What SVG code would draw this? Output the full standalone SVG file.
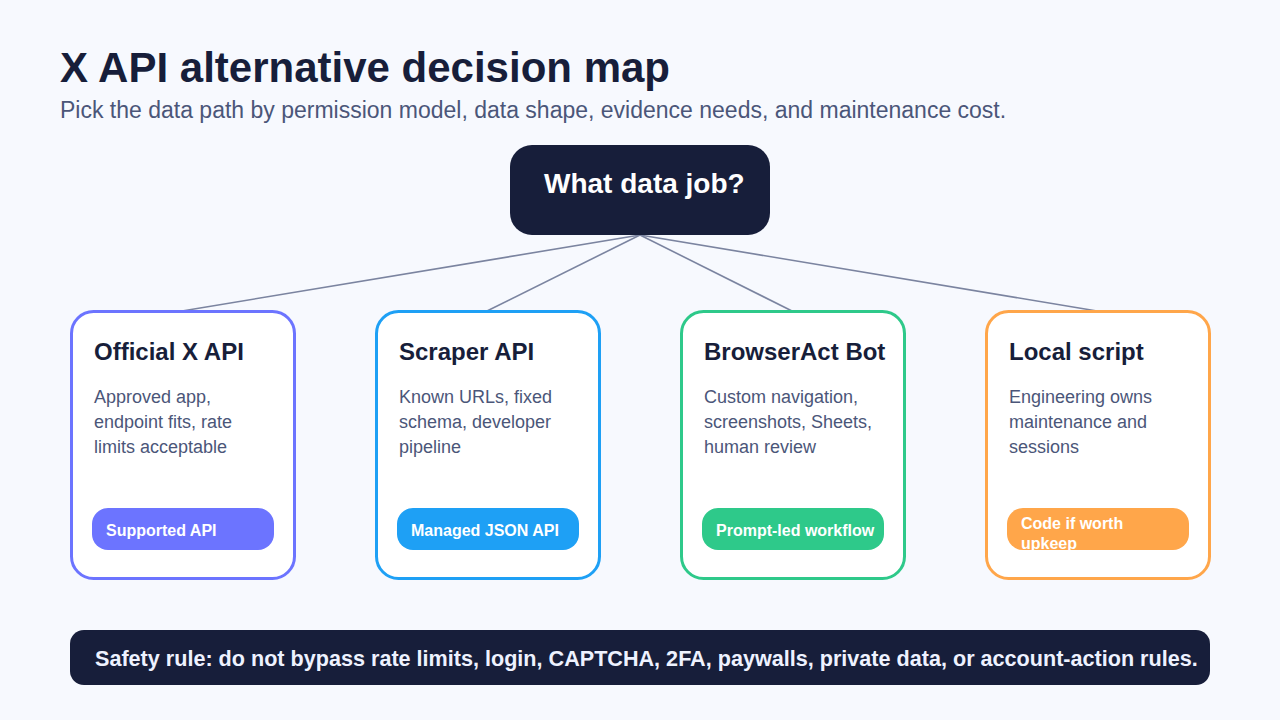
<svg xmlns="http://www.w3.org/2000/svg" width="1280" height="720" viewBox="0 0 1280 720">
<defs>
<style>
.bg{fill:#f7f9fe}
.title{font-family:"Liberation Sans",Arial,sans-serif;font-weight:bold;font-size:42px;fill:#171e3a}
.sub{font-family:"Liberation Sans",Arial,sans-serif;font-size:23px;fill:#4b5679}
.card{fill:#ffffff;stroke-width:3}
.ct{font-family:"Liberation Sans",Arial,sans-serif;font-weight:bold;font-size:24px;fill:#171e3a}
.cb{font-family:"Liberation Sans",Arial,sans-serif;font-size:18px;fill:#4b5679}
.pt{font-family:"Liberation Sans",Arial,sans-serif;font-weight:bold;font-size:16px;fill:#ffffff}
.conn{stroke:#7b84a0;stroke-width:1.6;fill:none}
.dark{fill:#171e3a}
</style>
<clipPath id="clip4"><rect x="1007" y="508" width="182" height="42" rx="16"/></clipPath>
</defs>
<rect class="bg" x="0" y="0" width="1280" height="720"/>
<text class="title" x="60" y="82">X API alternative decision map</text>
<text class="sub" x="60" y="118">Pick the data path by permission model, data shape, evidence needs, and maintenance cost.</text>
<g id="connectors">
<line class="conn" x1="640" y1="235" x2="182" y2="311"/>
<line class="conn" x1="640" y1="235" x2="487" y2="311"/>
<line class="conn" x1="640" y1="235" x2="792" y2="311"/>
<line class="conn" x1="640" y1="235" x2="1097" y2="311"/>
</g>
<g id="root">
<rect class="dark" x="510" y="145" width="260" height="90" rx="22"/>
<text x="544" y="193" font-family="Liberation Sans, Arial, sans-serif" font-weight="bold" font-size="28" fill="#ffffff">What data job?</text>
</g>
<g id="official">
<rect class="card" x="71.5" y="311.5" width="223" height="267" rx="22" stroke="#6c74ff"/>
<text class="ct" x="94" y="360">Official X API</text>
<text class="cb" x="94" y="403">Approved app,</text>
<text class="cb" x="94" y="428">endpoint fits, rate</text>
<text class="cb" x="94" y="453">limits acceptable</text>
<rect x="92" y="508" width="182" height="42" rx="16" fill="#6c74ff"/>
<text class="pt" x="106" y="536">Supported API</text>
</g>
<g id="scraper">
<rect class="card" x="376.5" y="311.5" width="223" height="267" rx="22" stroke="#1ea0f5"/>
<text class="ct" x="399" y="360">Scraper API</text>
<text class="cb" x="399" y="403">Known URLs, fixed</text>
<text class="cb" x="399" y="428">schema, developer</text>
<text class="cb" x="399" y="453">pipeline</text>
<rect x="397" y="508" width="182" height="42" rx="16" fill="#1ea0f5"/>
<text class="pt" x="411" y="536">Managed JSON API</text>
</g>
<g id="browseract">
<rect class="card" x="681.5" y="311.5" width="223" height="267" rx="22" stroke="#2ec98a"/>
<text class="ct" x="704" y="360">BrowserAct Bot</text>
<text class="cb" x="704" y="403">Custom navigation,</text>
<text class="cb" x="704" y="428">screenshots, Sheets,</text>
<text class="cb" x="704" y="453">human review</text>
<rect x="702" y="508" width="182" height="42" rx="16" fill="#2ec98a"/>
<text class="pt" x="716" y="536">Prompt-led workflow</text>
</g>
<g id="local">
<rect class="card" x="986.5" y="311.5" width="223" height="267" rx="22" stroke="#ffa64a"/>
<text class="ct" x="1009" y="360">Local script</text>
<text class="cb" x="1009" y="403">Engineering owns</text>
<text class="cb" x="1009" y="428">maintenance and</text>
<text class="cb" x="1009" y="453">sessions</text>
<rect x="1007" y="508" width="182" height="42" rx="16" fill="#ffa64a"/>
<g clip-path="url(#clip4)">
<text class="pt" x="1021" y="529">Code if worth</text>
<text class="pt" x="1021" y="549">upkeep</text>
</g>
</g>
<g id="safety">
<rect class="dark" x="70" y="630" width="1140" height="55" rx="14"/>
<text x="95" y="666" font-family="Liberation Sans, Arial, sans-serif" font-weight="bold" font-size="21.6" fill="#eef2ff">Safety rule: do not bypass rate limits, login, CAPTCHA, 2FA, paywalls, private data, or account-action rules.</text>
</g>
</svg>
